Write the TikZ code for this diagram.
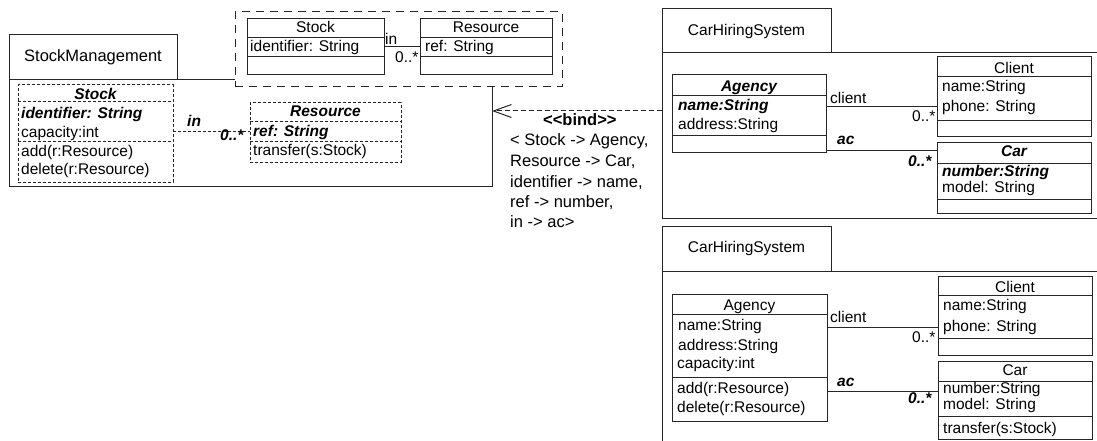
\documentclass[tikz,border=0pt]{standalone}
\usepackage{fontspec}
\setmainfont{Liberation Sans}
\usetikzlibrary{arrows.meta}
\newcommand\fs{\fontsize{15.5}{18}\selectfont}
\newcommand\fsb{\fontsize{16.5}{19}\selectfont}
\begin{document}
\begin{tikzpicture}[x=1pt,y=-1pt,
  ln/.style={draw=black!85, line width=1pt},
  cls/.style={ln, anchor=north west, inner sep=0pt, outer sep=0pt},
  dcls/.style={cls, dash pattern=on 3pt off 2pt},
  ddash/.style={ln, dash pattern=on 3pt off 2pt},
  t/.style={anchor=base west, inner sep=0pt, font=\fs},
  tc/.style={anchor=base, inner sep=0pt, font=\fs},
  bi/.style={font=\fs\bfseries\itshape},
  bt/.style={anchor=base west, inner sep=0pt, font=\fsb},
  ]
\useasboundingbox (0,0) rectangle (1097,441);

% ---------- StockManagement package ----------
\node[cls, minimum width=483, minimum height=106] (smbody) at (9,80) {};
\node[cls, minimum width=168, minimum height=45] (smtab) at (9,35) {};
\node[font=\fsb, inner sep=0pt] (smname) at (smtab.center) {StockManagement};

% template parameter box
\node[cls, dash pattern=on 8pt off 6pt, fill=white, minimum width=327, minimum height=75] (tpl) at (235,12) {};

% template Stock
\node[cls, minimum width=137, minimum height=56] (stockT) at (247,19) {};
\draw[ln] (stockT.west |- 0,38) -- (stockT.east |- 0,38);
\draw[ln] (stockT.west |- 0,57) -- (stockT.east |- 0,57);
\node[tc] (stockTn) at (stockT.center |- 0,33) {Stock};
\node[t] (stockTa) at (250,52) {identifier: String};

% template Resource
\node[cls, minimum width=132, minimum height=56] (resT) at (420,19) {};
\draw[ln] (resT.west |- 0,38) -- (resT.east |- 0,38);
\draw[ln] (resT.west |- 0,57) -- (resT.east |- 0,57);
\node[tc] (resTn) at (resT.center |- 0,33) {Resource};
\node[t] (resTa) at (425,52) {ref: String};

\draw[ln] (stockT.east) -- (resT.west);
\node[t] (inT) at (385,45) {in};
\node[t] (mT) at (395,63) {0..*};

% inner Stock
\node[dcls, minimum width=155, minimum height=97] (stockI) at (18,85) {};
\draw[ddash] (stockI.west |- 0,102) -- (stockI.east |- 0,102);
\draw[ddash] (stockI.west |- 0,141) -- (stockI.east |- 0,141);
\node[tc, bi] (stockIn) at (stockI.center |- 0,100) {Stock};
\node[t, bi] (stockI1) at (21,118) {identifier: String};
\node[t] (stockI2) at (21,137) {capacity:int};
\node[t] (stockI3) at (21,156) {add(r:Resource)};
\node[t] (stockI4) at (21,174) {delete(r:Resource)};

% inner Resource
\node[dcls, minimum width=151, minimum height=59] (resI) at (250,103) {};
\draw[ddash] (resI.west |- 0,122) -- (resI.east |- 0,122);
\draw[ddash] (resI.west |- 0,141) -- (resI.east |- 0,141);
\node[tc, bi] (resIn) at (resI.center |- 0,117) {Resource};
\node[t, bi] (resI1) at (253,136) {ref: String};
\node[t] (resI2) at (253,155) {transfer(s:Stock)};

\draw[ddash] (stockI.east |- 0,132) -- (resI.west |- 0,132);
\node[t, bi] (inI) at (187,127) {in};
\node[t, bi] (mI) at (220,140) {0..*};

% ---------- top CarHiringSystem ----------
\node[cls, minimum width=169, minimum height=44] (chs1tab) at (662,9) {};
\node[font=\fs, inner sep=0pt] (chs1name) at (chs1tab.center) {CarHiringSystem};
\draw[ln] (1098,53) -- (662,53) -- (662,218) -- (1098,218);
\coordinate (chs1) at (662,111);

\node[cls, minimum width=154, minimum height=77] (ag1) at (672,75) {};
\draw[ln] (ag1.west |- 0,96) -- (ag1.east |- 0,96);
\draw[ln] (ag1.west |- 0,136) -- (ag1.east |- 0,136);
\node[tc, bi] (ag1n) at (ag1.center |- 0,92) {Agency};
\node[t, bi] (ag1a) at (678,111) {name:String};
\node[t] (ag1b) at (678,130) {address:String};

\node[cls, minimum width=154, minimum height=80] (cl1) at (937,57) {};
\draw[ln] (cl1.west |- 0,77) -- (cl1.east |- 0,77);
\draw[ln] (cl1.west |- 0,121) -- (cl1.east |- 0,121);
\node[tc] (cl1n) at (cl1.center |- 0,74) {Client};
\node[t] (cl1a) at (942,92) {name:String};
\node[t] (cl1b) at (942,112) {phone: String};

\node[cls, minimum width=154, minimum height=71] (car1) at (937,142) {};
\draw[ln] (car1.west |- 0,163) -- (car1.east |- 0,163);
\draw[ln] (car1.west |- 0,199) -- (car1.east |- 0,199);
\node[tc, bi] (car1n) at (car1.center |- 0,157) {Car};
\node[t, bi] (car1a) at (942,176) {number:String};
\node[t] (car1b) at (942,192) {model: String};

\draw[ln] (ag1.east |- 0,107) -- (cl1.west |- 0,107);
\node[t] (c1l) at (830,104) {client};
\node[t] (c1m) at (912,122) {0..*};
\draw[ln] (ag1.east |- 0,150) -- (car1.west |- 0,150);
\node[t, bi] (a1l) at (837,144) {ac};
\node[t, bi] (a1m) at (908,166) {0..*};

% bind dependency
\draw[ln, dash pattern=on 5pt off 3pt, -{Straight Barb[length=18pt,width=13pt,line width=1pt]}] (chs1) -- (smbody.east |- chs1);
\node[bt, font=\fsb\bfseries] (bind) at (543,125) {<{}<bind>{}>};
\node[bt] (b1) at (510,146) {<{} Stock -> Agency,};
\node[bt] (b2) at (510,166) {Resource -> Car,};
\node[bt] (b3) at (510,187) {identifier -> name,};
\node[bt] (b4) at (510,207) {ref -> number,};
\node[bt] (b5) at (510,227) {in -> ac>};

% ---------- bottom CarHiringSystem ----------
\node[cls, minimum width=169, minimum height=45] (chs2tab) at (662,226) {};
\node[font=\fs, inner sep=0pt] (chs2name) at (chs2tab.center) {CarHiringSystem};
\draw[ln] (1098,271) -- (662,271) -- (662,442);

\node[cls, minimum width=155, minimum height=127] (ag2) at (672,294) {};
\draw[ln] (ag2.west |- 0,314) -- (ag2.east |- 0,314);
\draw[ln] (ag2.west |- 0,377) -- (ag2.east |- 0,377);
\node[tc] (ag2n) at (ag2.center |- 0,310) {Agency};
\node[t] (ag2a) at (678,330) {name:String};
\node[t] (ag2b) at (678,350) {address:String};
\node[t] (ag2c) at (677,368) {capacity:int};
\node[t] (ag2d) at (677,393) {add(r:Resource)};
\node[t] (ag2e) at (677,412) {delete(r:Resource)};

\node[cls, minimum width=154, minimum height=79] (cl2) at (938,276) {};
\draw[ln] (cl2.west |- 0,295) -- (cl2.east |- 0,295);
\draw[ln] (cl2.west |- 0,338) -- (cl2.east |- 0,338);
\node[tc] (cl2n) at (cl2.center |- 0,292) {Client};
\node[t] (cl2a) at (943,310) {name:String};
\node[t] (cl2b) at (943,331) {phone: String};

\node[cls, minimum width=154, minimum height=78] (car2) at (938,361) {};
\draw[ln] (car2.west |- 0,381) -- (car2.east |- 0,381);
\draw[ln] (car2.west |- 0,416) -- (car2.east |- 0,416);
\node[tc] (car2n) at (car2.center |- 0,375) {Car};
\node[t] (car2a) at (943,393) {number:String};
\node[t] (car2b) at (943,409) {model: String};
\node[t] (car2c) at (943,433) {transfer(s:Stock)};

\draw[ln] (ag2.east |- 0,327) -- (cl2.west |- 0,327);
\node[t] (c2l) at (830,322) {client};
\node[t] (c2m) at (912,342) {0..*};
\draw[ln] (ag2.east |- 0,391) -- (car2.west |- 0,391);
\node[t, bi] (a2l) at (837,386) {ac};
\node[t, bi] (a2m) at (908,403) {0..*};
\end{tikzpicture}
\end{document}
